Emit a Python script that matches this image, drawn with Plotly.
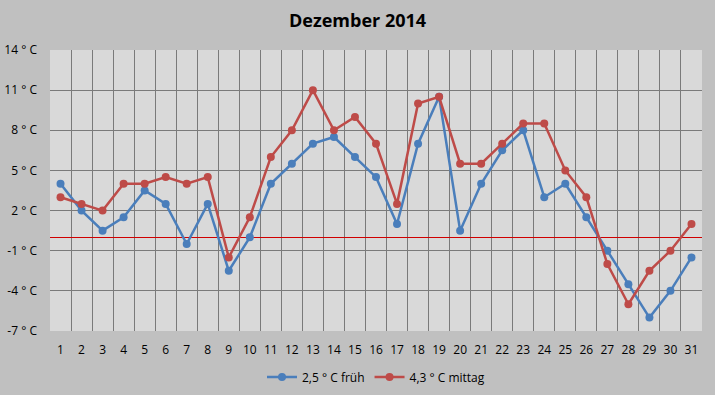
import plotly.graph_objects as go

days = list(range(1, 32))
frueh = [4, 2, 0.5, 1.5, 3.5, 2.5, -0.5, 2.5, -2.5, 0, 4, 5.5, 7, 7.5, 6, 4.5, 1, 7, 10.5, 0.5,
         4, 6.5, 8, 3, 4, 1.5, -1, -3.5, -6, -4, -1.5]
mittag = [3, 2.5, 2, 4, 4, 4.5, 4, 4.5, -1.5, 1.5, 6, 8, 11, 8, 9, 7, 2.5, 10, 10.5, 5.5,
          5.5, 7, 8.5, 8.5, 5, 3, -2, -5, -2.5, -1, 1]
y_ticks = [14, 11, 8, 5, 2, -1, -4, -7]
y_labels = ["14 ° C", "11 ° C", "8 ° C", "5 ° C", "2 ° C", "-1 ° C", "-4 ° C", "-7 ° C"]
series_names = ["2,5 ° C früh", "4,3 ° C mittag"]
title = "Dezember 2014"

font = "Open Sans, Noto Sans, sans-serif"

fig = go.Figure()
fig.add_trace(go.Scatter(x=days, y=frueh, name=series_names[0], mode="lines+markers",
                         line=dict(color="#4a7ebb", width=2.5),
                         marker=dict(color="#4a7ebb", size=8)))
fig.add_trace(go.Scatter(x=days, y=mittag, name=series_names[1], mode="lines+markers",
                         line=dict(color="#be4b48", width=2.5),
                         marker=dict(color="#be4b48", size=8)))

fig.update_layout(
    width=715, height=395,
    margin=dict(l=50, r=13, t=50, b=64, autoexpand=False),
    paper_bgcolor="#c0c0c0",
    plot_bgcolor="#d9d9d9",
    font=dict(family=font, size=12, color="#000000"),
    title=dict(text="<b>" + title + "</b>", x=0.5, xanchor="center", y=1 - 21 / 395, yanchor="middle",
               yref="container", font=dict(family=font, size=18, color="#000000")),
    showlegend=True,
    legend=dict(orientation="h", x=0.5, xanchor="center", y=-0.164, yanchor="middle",
                bgcolor="rgba(0,0,0,0)", font=dict(size=12)),
    xaxis=dict(range=[0.5, 31.5], tickvals=days, ticktext=[str(d) for d in days],
               showgrid=False, zeroline=False, showline=False, ticks="",
               minor=dict(tick0=0.5, dtick=1, showgrid=True, gridcolor="#7a7a7a", gridwidth=1.3),
               ticklabelstandoff=10, automargin=False,
               tickfont=dict(size=12), fixedrange=True),
    yaxis=dict(range=[-7, 14], tickvals=y_ticks, ticktext=y_labels,
               showgrid=True, gridcolor="#7a7a7a", gridwidth=1.3,
               zeroline=True, zerolinecolor="#d00000", zerolinewidth=1,
               showline=False, ticks="", ticklabelstandoff=12, automargin=False,
               tickfont=dict(size=12), fixedrange=True),
)

fig.write_html("out.html", config={"displayModeBar": False},
               post_script="document.body.style.margin='0';document.body.style.overflow='hidden';")
